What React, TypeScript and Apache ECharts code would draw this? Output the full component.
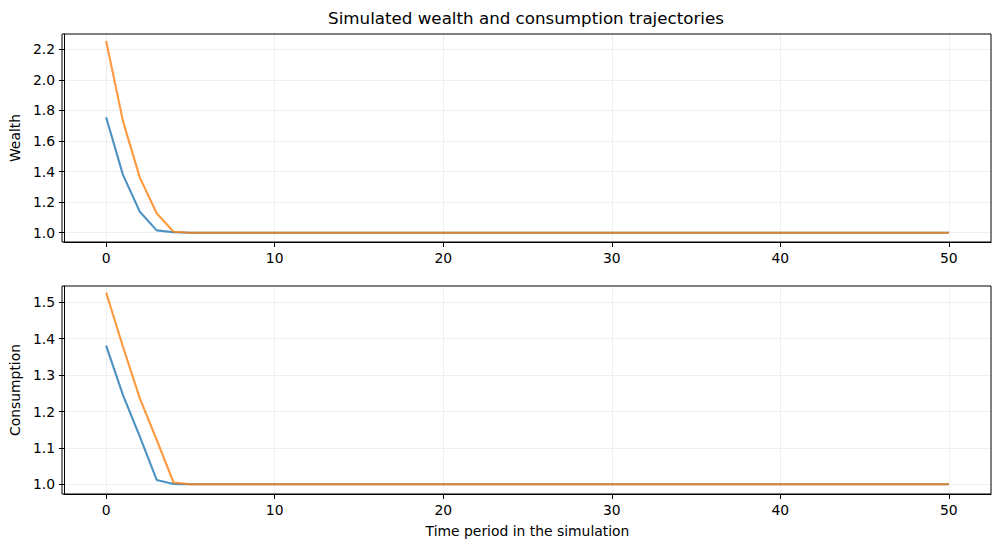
import React, { useEffect, useRef } from "react";
import * as echarts from "echarts";

const periods: number[] = [
  0, 1, 2, 3, 4, 5, 6, 7, 8, 9, 10, 11, 12, 13, 14, 15, 16, 17, 18, 19, 20,
  21, 22, 23, 24, 25, 26, 27, 28, 29, 30, 31, 32, 33, 34, 35, 36, 37, 38, 39,
  40, 41, 42, 43, 44, 45, 46, 47, 48, 49, 50,
];

const wealthA: number[] = [
  1.755, 1.378, 1.137, 1.015, 1.003, 1.0, 1.0, 1.0, 1.0, 1.0, 1.0, 1.0, 1.0,
  1.0, 1.0, 1.0, 1.0, 1.0, 1.0, 1.0, 1.0, 1.0, 1.0, 1.0, 1.0, 1.0, 1.0, 1.0,
  1.0, 1.0, 1.0, 1.0, 1.0, 1.0, 1.0, 1.0, 1.0, 1.0, 1.0, 1.0, 1.0, 1.0, 1.0,
  1.0, 1.0, 1.0, 1.0, 1.0, 1.0, 1.0, 1.0,
];
const wealthB: number[] = [
  2.255, 1.73, 1.36, 1.127, 1.006, 1.0, 1.0, 1.0, 1.0, 1.0, 1.0, 1.0, 1.0,
  1.0, 1.0, 1.0, 1.0, 1.0, 1.0, 1.0, 1.0, 1.0, 1.0, 1.0, 1.0, 1.0, 1.0, 1.0,
  1.0, 1.0, 1.0, 1.0, 1.0, 1.0, 1.0, 1.0, 1.0, 1.0, 1.0, 1.0, 1.0, 1.0, 1.0,
  1.0, 1.0, 1.0, 1.0, 1.0, 1.0, 1.0, 1.0,
];
const consA: number[] = [
  1.381, 1.245, 1.131, 1.012, 1.001, 1.0, 1.0, 1.0, 1.0, 1.0, 1.0, 1.0, 1.0,
  1.0, 1.0, 1.0, 1.0, 1.0, 1.0, 1.0, 1.0, 1.0, 1.0, 1.0, 1.0, 1.0, 1.0, 1.0,
  1.0, 1.0, 1.0, 1.0, 1.0, 1.0, 1.0, 1.0, 1.0, 1.0, 1.0, 1.0, 1.0, 1.0, 1.0,
  1.0, 1.0, 1.0, 1.0, 1.0, 1.0, 1.0, 1.0,
];
const consB: number[] = [
  1.527, 1.378, 1.236, 1.122, 1.005, 1.0, 1.0, 1.0, 1.0, 1.0, 1.0, 1.0, 1.0,
  1.0, 1.0, 1.0, 1.0, 1.0, 1.0, 1.0, 1.0, 1.0, 1.0, 1.0, 1.0, 1.0, 1.0, 1.0,
  1.0, 1.0, 1.0, 1.0, 1.0, 1.0, 1.0, 1.0, 1.0, 1.0, 1.0, 1.0, 1.0, 1.0, 1.0,
  1.0, 1.0, 1.0, 1.0, 1.0, 1.0, 1.0, 1.0,
];

const xTicks: number[] = [0, 10, 20, 30, 40, 50];
const wealthTicks: number[] = [1.0, 1.2, 1.4, 1.6, 1.8, 2.0, 2.2];
const consTicks: number[] = [1.0, 1.1, 1.2, 1.3, 1.4, 1.5];

const titleText = "Simulated wealth and consumption trajectories";
const FONT = "'DejaVu Sans', sans-serif";
const BLUE = "rgba(31,119,180,0.8)";
const ORANGE = "rgba(255,127,14,0.8)";

function pairs(xs: number[], ys: number[]): number[][] {
  return xs.map((x, i) => [x, ys[i]]);
}

export default function App() {
  const ref = useRef<HTMLDivElement>(null);
  useEffect(() => {
    if (!ref.current) return;
    const chart = echarts.init(ref.current, undefined, { renderer: "svg" });
    const axisLine = { show: true, onZero: false, lineStyle: { color: "#000", width: 1 } };
    const axisTickX = { show: true, length: 5, inside: false, lineStyle: { color: "#000", width: 1 }, customValues: xTicks };
    const grid = { show: true, lineStyle: { color: "#efefef", width: 1 } };
    const mkX = (idx: number, name?: string) => ({
      type: "value",
      gridIndex: idx,
      min: -2.5,
      max: 52.5,
      axisLine,
      axisTick: axisTickX,
      axisLabel: {
        customValues: xTicks,
        margin: 9,
        color: "#000",
        fontFamily: FONT,
        fontSize: 13.9,
        formatter: (v: number) => String(Math.round(v)),
      },
      splitLine: grid,
      name,
      nameLocation: "middle",
      nameGap: 30,
      nameTextStyle: { color: "#000", fontFamily: FONT, fontSize: 13.9 },
    });
    const mkY = (idx: number, min: number, max: number, ticks: number[], name: string) => ({
      type: "value",
      gridIndex: idx,
      min,
      max,
      axisLine,
      axisTick: { show: true, length: 5, inside: false, lineStyle: { color: "#000", width: 1 }, customValues: ticks },
      axisLabel: {
        customValues: ticks,
        margin: 9,
        color: "#000",
        fontFamily: FONT,
        fontSize: 13.9,
        formatter: (v: number) => v.toFixed(1),
      },
      splitLine: grid,
      name,
      nameLocation: "middle",
      nameGap: 40,
      nameRotate: 90,
      nameTextStyle: { color: "#000", fontFamily: FONT, fontSize: 13.9 },
    });
    const line = (xi: number, data: number[][], color: string) => ({
      type: "line",
      xAxisIndex: xi,
      yAxisIndex: xi,
      data,
      showSymbol: false,
      symbol: "none",
      lineStyle: { color, width: 2.1 },
      itemStyle: { color },
      silent: true,
    });
    chart.setOption({
      animation: false,
      backgroundColor: "#fff",
      grid: [
        { left: 62, top: 34, width: 929, height: 208, show: false },
        { left: 62, top: 286, width: 929, height: 208, show: false },
      ],
      xAxis: [mkX(0), mkX(1, "Time period in the simulation")],
      yAxis: [
        mkY(0, 0.939, 2.3, wealthTicks, "Wealth"),
        mkY(1, 0.9734, 1.5448, consTicks, "Consumption"),
      ],
      graphic: [
        {
          type: "text",
          x: 526,
          y: 18,
          style: {
            text: titleText,
            font: `16.7px ${FONT}`,
            fill: "#000",
            textAlign: "center",
            textVerticalAlign: "middle",
          },
        },
        { type: "rect", shape: { x: 62, y: 34, width: 929, height: 208 }, style: { fill: "none", stroke: "#000", lineWidth: 1 }, z: 100 },
        { type: "rect", shape: { x: 62, y: 286, width: 929, height: 208 }, style: { fill: "none", stroke: "#000", lineWidth: 1 }, z: 100 },
      ],
      series: [
        line(0, pairs(periods, wealthA), BLUE),
        line(0, pairs(periods, wealthB), ORANGE),
        line(1, pairs(periods, consA), BLUE),
        line(1, pairs(periods, consB), ORANGE),
      ],
    });
    return () => chart.dispose();
  }, []);
  return (
    <div
      ref={ref}
      style={{ position: "absolute", left: 0, top: 0, width: 1001, height: 547 }}
    />
  );
}
